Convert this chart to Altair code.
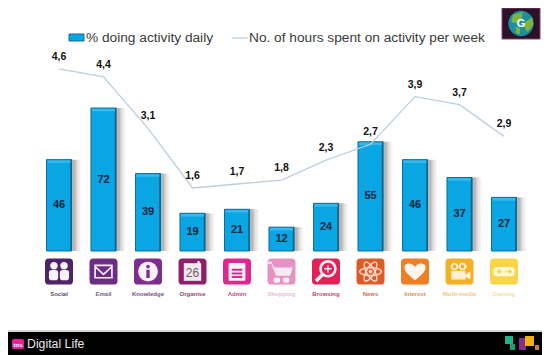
import math
import altair as alt
import pandas as pd

categories = ["Social", "Email", "Knowledge", "Organise", "Admin", "Shopping", "Browsing", "News", "Interest", "Multi-media", "Gaming"]
pct_daily = [46, 72, 39, 19, 21, 12, 24, 55, 46, 37, 27]
hours_week = [4.6, 4.4, 3.1, 1.6, 1.7, 1.8, 2.3, 2.7, 3.9, 3.7, 2.9]
icon_colors = ["#4e2468", "#6c2d84", "#7f2c8f", "#8e2069", "#e0278f", "#e693c4", "#df2357", "#e05a28", "#ee7f23", "#f6b025", "#f9d648"]
label_colors = ["#5f4a70", "#7d5a8f", "#7d4a90", "#97427f", "#d0428f", "#e8b8d7", "#cf3f6a", "#d8704a", "#e8904a", "#f3c780", "#f7e090"]

FONT = "Liberation Sans"
W, H = 534, 347

df = pd.DataFrame({"cat": categories, "pct": pct_daily, "hours": hours_week})
df["mid"] = df["pct"] / 2
df["pct_label"] = df["pct"].astype(str)
df["hours_label"] = [str(v).replace(".", ",") for v in hours_week]
df["label_color"] = label_colors

x_enc = alt.X("cat:N", sort=categories, axis=None,
              scale=alt.Scale(range=[28.75, 518.25], paddingInner=0, paddingOuter=0))
pct_scale = alt.Scale(domain=[0, 120], range=[243, 4.7])
hours_scale = alt.Scale(domain=[0, 6], range=[243.5, 5.3])
y_pct = alt.Y("pct:Q", scale=pct_scale, axis=None)
y_mid = alt.Y("mid:Q", scale=pct_scale, axis=None)
y_hours = alt.Y("hours:Q", scale=hours_scale, axis=None)
base = alt.Chart(df)
one = alt.Chart(pd.DataFrame({"a": [0]}))


def rect(x0, y0, x1, y1, color, **kw):
    return one.mark_rect(color=color, **kw).encode(
        x=alt.value(x0 - 8), x2=alt.value(x1 - 8), y=alt.value(y0 - 8), y2=alt.value(y1 - 8))


def label(text, x, y, size, color, align="left", weight="normal", font=FONT):
    return one.mark_text(text=text, fontSize=size, color=color, align=align, baseline="middle",
                         fontWeight=weight, font=font).encode(x=alt.value(x - 8), y=alt.value(y - 8))


# ---------- glyph paths, in the unit box of a custom symbol ----------
def circ(cx, cy, r, rev=False):
    s = 0 if rev else 1
    return f"M{cx-r},{cy}A{r},{r} 0 1,{s} {cx+r},{cy}A{r},{r} 0 1,{s} {cx-r},{cy}Z"


def box(x0, y0, x1, y1, rev=False):
    if rev:
        return f"M{x0},{y0}L{x0},{y1}L{x1},{y1}L{x1},{y0}Z"
    return f"M{x0},{y0}L{x1},{y0}L{x1},{y1}L{x0},{y1}Z"


def rbox(x0, y0, x1, y1, r):
    return (f"M{x0+r},{y0}L{x1-r},{y0}Q{x1},{y0} {x1},{y0+r}L{x1},{y1-r}Q{x1},{y1} {x1-r},{y1}"
            f"L{x0+r},{y1}Q{x0},{y1} {x0},{y1-r}L{x0},{y0+r}Q{x0},{y0} {x0+r},{y0}Z")


def ellipse_ring(rx, ry, rot, t):
    def poly(a, b, rev):
        pts = []
        rng = range(36, -1, -1) if rev else range(37)
        for k in rng:
            th = 2 * math.pi * k / 36
            px, py = a * math.cos(th), b * math.sin(th)
            pts.append((px * math.cos(rot) - py * math.sin(rot), px * math.sin(rot) + py * math.cos(rot)))
        return "M" + "L".join(f"{p:.3f},{q:.3f}" for p, q in pts) + "Z"
    return poly(rx, ry, False) + poly(rx - t, ry - t, True)


TILE = rbox(-1, -0.93, 1, 0.93, 0.28)
LIGHT = "#fbf3f8"
glyph_rows = [
    ("Social", circ(-0.36, -0.42, 0.27) + circ(0.36, -0.42, 0.27)
     + rbox(-0.72, -0.12, -0.06, 0.62, 0.2) + rbox(0.06, -0.12, 0.72, 0.62, 0.2), LIGHT),
    ("Email", box(-0.66, -0.5, 0.66, 0.5) + box(-0.54, -0.38, 0.54, 0.38, True), LIGHT),
    ("Email", "M-0.54,-0.38L0,0.12L0.54,-0.38L0.54,-0.22L0,0.28L-0.54,-0.22Z", LIGHT),
    ("Knowledge", circ(0, 0, 0.7), LIGHT),
    ("Knowledge", circ(0, -0.36, 0.13) + box(-0.12, -0.14, 0.12, 0.46), "#7f2c8f"),
    ("Organise", box(-0.62, -0.6, 0.62, 0.66), "#f4e9f0"),
    ("Organise", box(0.34, -0.74, 0.52, -0.52), LIGHT),
    ("Admin", rbox(-0.6, -0.62, 0.6, 0.66, 0.08), LIGHT),
    ("Admin", box(-0.38, -0.2, 0.38, -0.06) + box(-0.38, 0.06, 0.38, 0.2) + box(-0.38, 0.32, 0.38, 0.46), "#e0278f"),
    ("Shopping", "M-1,-0.7L-0.72,-0.7L-0.52,-0.3L0.8,-0.3L0.62,0.3L-0.4,0.3L-0.72,-0.56L-1,-0.56Z", "#fbeaf4"),
    ("Shopping", rbox(-0.56, 0.42, -0.1, 0.8, 0.12) + rbox(0.1, 0.42, 0.56, 0.8, 0.12), "#fbeaf4"),
    ("Browsing", circ(0.14, -0.2, 0.62) + circ(0.14, -0.2, 0.44, True), LIGHT),
    ("Browsing", "M-0.32,0.1L-0.14,0.28L-0.62,0.76L-0.8,0.58Z", LIGHT),
    ("Browsing", box(-0.12, -0.25, 0.4, -0.15) + box(0.09, -0.46, 0.19, 0.06), LIGHT),
    ("News", ellipse_ring(0.82, 0.34, 0.0, 0.11), "#fbd9c6"),
    ("News", ellipse_ring(0.82, 0.34, 1.05, 0.11), "#fbd9c6"),
    ("News", ellipse_ring(0.82, 0.34, -1.05, 0.11), "#fbd9c6"),
    ("News", circ(0, 0, 0.14), "#fbd9c6"),
    ("Interest", "M0,0.62C-0.4,0.28 -0.76,0 -0.76,-0.3C-0.76,-0.62 -0.24,-0.72 0,-0.34C0.24,-0.72 0.76,-0.62 0.76,-0.3C0.76,0 0.4,0.28 0,0.62Z", "#fff6ee"),
    ("Multi-media", circ(-0.36, -0.36, 0.28) + circ(-0.36, -0.36, 0.14, True)
     + circ(0.22, -0.36, 0.28) + circ(0.22, -0.36, 0.14, True), "#fff1d4"),
    ("Multi-media", box(-0.58, -0.04, 0.42, 0.56) + "M0.42,0.22L0.78,-0.02L0.78,0.54L0.42,0.36Z", "#fff1d4"),
    ("Gaming", rbox(-0.76, -0.32, 0.76, 0.34, 0.3), "#fff6d2"),
    ("Gaming", box(-0.5, -0.06, -0.18, 0.06) + box(-0.4, -0.16, -0.28, 0.16)
     + circ(0.42, 0, 0.13) + circ(0.18, 0, 0.06), "#f9d648"),
]
tiles = pd.DataFrame({"cat": categories, "shape": [TILE] * 11, "color": icon_colors})
glyphs = pd.DataFrame(glyph_rows, columns=["cat", "shape", "color"])
ICON_Y = alt.value(263.6)


def symbols(frame, size):
    return alt.Chart(frame).mark_point(filled=True, opacity=1, strokeWidth=0, size=size).encode(
        x=x_enc, y=ICON_Y,
        shape=alt.Shape("shape:N", scale=None, legend=None),
        color=alt.Color("color:N", scale=None, legend=None))


layers = []
# shadows, soft to the right of each bar
for off, size, op in [(9, 26, 0.04), (7.5, 27, 0.05), (6, 27, 0.07), (4.5, 27, 0.09), (3, 28, 0.12), (1.5, 29, 0.14)]:
    layers.append(base.mark_bar(color="#555555", opacity=op, size=size, xOffset=off).encode(
        x=x_enc, y=y_pct, y2=alt.datum(0)))
# bars
layers.append(base.mark_bar(color="#0aa5e3", size=25, stroke="#0b6f9c", strokeWidth=1).encode(
    x=x_enc, y=y_pct, y2=alt.datum(0)))
layers.append(base.mark_bar(color="#0a6690", size=1.5, xOffset=12).encode(
    x=x_enc, y=y_pct, y2=alt.datum(0)))
layers.append(base.mark_tick(color="#4dc0ec", orient="horizontal", size=23, thickness=2.5, yOffset=2).encode(
    x=x_enc, y=y_pct))
# line
layers.append(base.mark_line(color="#bccfdf", strokeWidth=1.3).encode(x=x_enc, y=y_hours))
# value labels
layers.append(base.mark_text(font=FONT, fontSize=11, fontWeight="bold", color="#0b2438").encode(
    x=x_enc, y=y_mid, text="pct_label:N"))
layers.append(base.mark_text(font=FONT, fontSize=10.5, fontWeight="bold", color="#111111", dy=-12).encode(
    x=x_enc, y=y_hours, text="hours_label:N"))
# icons and their captions
layers.append(symbols(tiles, 784))
layers.append(symbols(glyphs, 784))
layers.append(alt.Chart(pd.DataFrame({"cat": ["Organise"]})).mark_text(
    text="26", font=FONT, fontSize=12, color="#6d5a6a", dy=1).encode(x=x_enc, y=ICON_Y))
layers.append(base.mark_text(font=FONT, fontSize=6, fontWeight="bold").encode(
    x=x_enc, y=alt.value(286), text="cat:N",
    color=alt.Color("label_color:N", scale=None, legend=None)))
# legend
layers.append(rect(69, 34, 84, 41, "#0aa5e3", stroke="#0b6f9c", strokeWidth=1))
layers.append(label("% doing activity daily", 86, 38, 13.7, "#3a3a3a"))
layers.append(one.mark_rule(color="#bccfdf", strokeWidth=1.3).encode(
    x=alt.value(232 - 8), x2=alt.value(248 - 8), y=alt.value(38 - 8)))
layers.append(label("No. of hours spent on activity per week", 249, 38, 13.7, "#3a3a3a"))
# badge
layers.append(rect(502, 8, 540, 39, "#2b1226", stroke="#8a3f70", strokeWidth=1))
layers.append(one.mark_point(filled=True, opacity=1, strokeWidth=0, size=1000, color="#1c8ea0",
                             shape=circ(0, 0, 0.8)).encode(x=alt.value(513), y=alt.value(15.5)))
layers.append(one.mark_point(filled=True, opacity=1, strokeWidth=0, size=1000, color="#7fb33f",
                             shape="M-0.5,-0.55L0.1,-0.72L0.05,-0.2L-0.3,0L-0.62,-0.1ZM0.25,-0.1L0.72,-0.4L0.78,0.1L0.4,0.55L0.2,0.2ZM-0.35,0.2L-0.05,0.3L-0.1,0.7L-0.3,0.6Z").encode(
    x=alt.value(513), y=alt.value(15.5)))
layers.append(label("G", 521, 24, 11, "#ffffff", align="center", weight="bold"))
# footer
layers.append(rect(8, 330, 542, 332, "#d8d8d8"))
layers.append(rect(8, 332, 542, 355, "#000000"))
layers.append(one.mark_point(filled=True, opacity=1, strokeWidth=0, size=144, color="#e8219a",
                             shape=rbox(-1, -0.85, 1, 0.85, 0.3)).encode(x=alt.value(10), y=alt.value(336)))
layers.append(label("tns", 18, 344.5, 6, "#ffffff", align="center", weight="bold"))
layers.append(label("Digital Life", 27, 343.5, 12.3, "#e8e8e8"))
for x0, y0, x1, y1, c in [(505, 336, 513, 344, "#1fb58a"), (510, 344, 515, 350, "#1b9a70"),
                          (519, 338, 526, 350, "#8a2a90"), (525, 336, 534, 346, "#f0b010"),
                          (535, 345, 539, 350, "#d07a40")]:
    layers.append(rect(x0, y0, x1, y1, c))

chart = alt.layer(*layers).resolve_scale(y="independent").properties(
    width=W, height=H, padding=0, autosize=alt.AutoSizeParams(type="none"),
    background="white"
).configure_view(stroke=None)

chart.save("out.html", embed_options={"renderer": "svg", "actions": False})
